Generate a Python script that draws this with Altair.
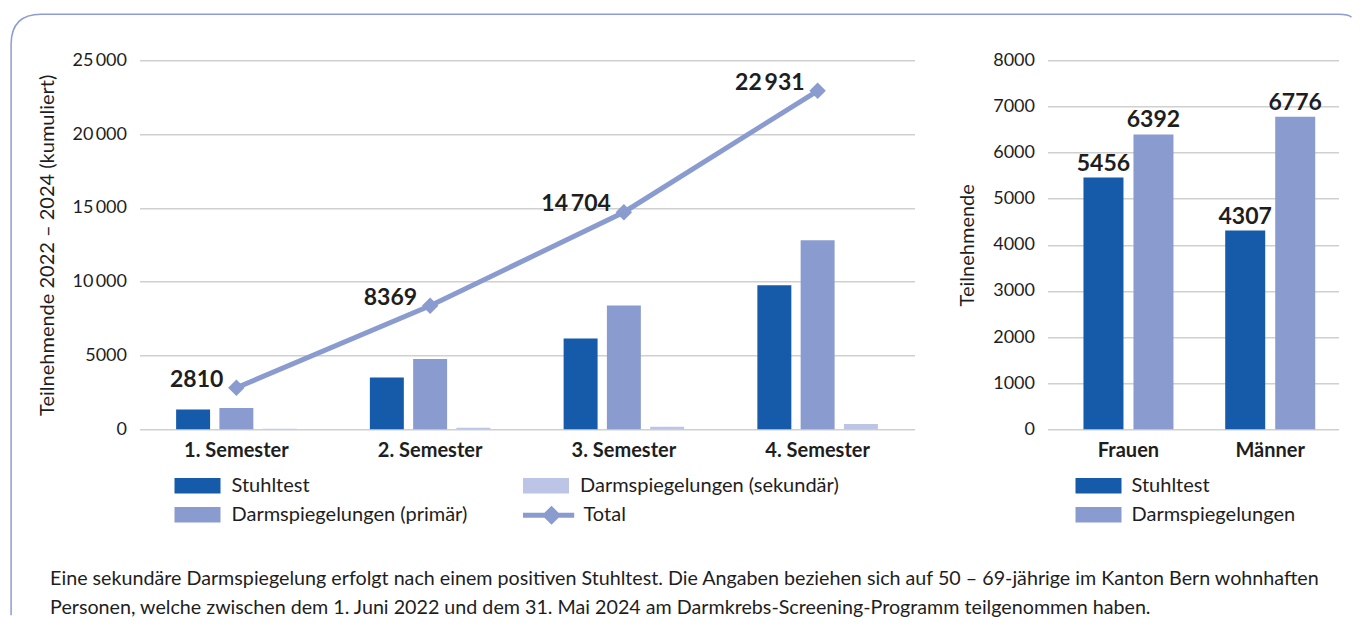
import altair as alt
import pandas as pd

# ---------------- data ----------------
semesters = ["1. Semester", "2. Semester", "3. Semester", "4. Semester"]
stuhltest = [1330, 3510, 6150, 9763]
darm_primaer = [1440, 4760, 8380, 12808]
darm_sekundaer = [40, 99, 174, 360]
total = [2810, 8369, 14704, 22931]

groups = ["Frauen", "Männer"]
g_stuhltest = [5456, 4307]
g_darm = [6392, 6776]

left_series = ["Stuhltest", "Darmspiegelungen (primär)", "Darmspiegelungen (sekundär)"]
total_name = ["Total"]
right_series = ["Stuhltest", "Darmspiegelungen"]

left_ticks = [0, 5000, 10000, 15000, 20000, 25000]
right_ticks = [0, 1000, 2000, 3000, 4000, 5000, 6000, 7000, 8000]

y_title_left = "Teilnehmende 2022 – 2024 (kumuliert)"
y_title_right = "Teilnehmende"
footnote = [
    "Eine sekundäre Darmspiegelung erfolgt nach einem positiven Stuhltest. Die Angaben beziehen sich auf 50 – 69-jährige im Kanton Bern wohnhaften",
    "Personen, welche zwischen dem 1. Juni 2022 und dem 31. Mai 2024 am Darmkrebs-Screening-Programm teilgenommen haben.",
]

# ---------------- styles ----------------
DARK = "#155ba9"
MID = "#8a9bd0"
LIGHT = "#bcc5e5"
FRAME = "#8d9cd3"
TXT = "#1e1e1e"
FONT = "Lato"

SWATCH = "M-1,-0.97H4.75V0.97H-1Z"
TOTAL_PATH = "M-1,0H5.4M2.565,-0.75L3.315,0L2.565,0.75L1.815,0Z"
FRAME_PATH = "M-128.4,555L-128.4,-16Q-128.4,-46 -98.4,-46L1199,-46Q1209,-46 1212,-43"

NUM_EXPR = "{v} >= 10000 ? replace(format({v}, ','), ',', '\u2009') : format({v}, 'd')"

# ---------------- tables ----------------
rows = []
for i, s in enumerate(semesters):
    for serie, vals in zip(left_series, [stuhltest, darm_primaer, darm_sekundaer]):
        rows.append({"semester": s, "serie": serie, "wert": vals[i]})
df_left = pd.DataFrame(rows)
df_total = pd.DataFrame({"semester": semesters, "total": total,
                         "linie": total_name * len(semesters)})

rows_r = []
for i, g in enumerate(groups):
    for serie, vals in zip(right_series, [g_stuhltest, g_darm]):
        rows_r.append({"gruppe": g, "serie": serie, "wert": vals[i]})
df_right = pd.DataFrame(rows_r)

one = pd.DataFrame({"a": [0]})

# ---------------- left chart ----------------
x_left = alt.X(
    "semester:N", sort=semesters, title=None,
    scale=alt.Scale(paddingInner=0.378, paddingOuter=0.189),
    axis=alt.Axis(labelFontWeight="bold", labelFontSize=20, labelPadding=11,
                  labelAngle=0, domain=False, ticks=False, grid=False),
)
y_left = alt.Y(
    "wert:Q", scale=alt.Scale(domain=[0, 25000], nice=False),
    axis=alt.Axis(values=left_ticks, labelExpr=NUM_EXPR.format(v="datum.value"),
                  title=y_title_left, titleFontSize=20, titlePadding=15, labelPadding=13),
)

bars = alt.Chart(df_left).mark_bar().encode(
    x=x_left,
    xOffset=alt.XOffset("serie:N", sort=left_series,
                        scale=alt.Scale(paddingInner=0.215, paddingOuter=0)),
    y=y_left,
    color=alt.Color(
        "serie:N",
        scale=alt.Scale(domain=left_series, range=[DARK, MID, LIGHT]),
        legend=alt.Legend(
            title=None, orient="none", legendX=33, legendY=415.5, columns=2,
            gridAlign="all", symbolType=SWATCH, symbolSize=256, symbolStrokeWidth=0,
            labelOffset=39, labelLimit=400, rowPadding=9, columnPadding=30.5,
        ),
    ),
)

x_line = alt.X("semester:N", sort=semesters, bandPosition=0.5)
line = alt.Chart(df_total).mark_line(strokeWidth=5).encode(
    x=x_line, y=alt.Y("total:Q"),
    stroke=alt.Stroke(
        "linie:N", scale=alt.Scale(domain=total_name, range=[MID]),
        legend=alt.Legend(
            title=None, orient="none", legendX=381, legendY=444.5,
            symbolType=TOTAL_PATH, symbolSize=256, symbolStrokeWidth=5,
            symbolFillColor=MID, labelOffset=42, labelLimit=400,
        ),
    ),
)
pts = alt.Chart(df_total).mark_point(shape="diamond", filled=True, size=270,
                                     color=MID, opacity=1).encode(
    x=x_line, y=alt.Y("total:Q"))
lbl = alt.Chart(df_total).transform_calculate(
    label=NUM_EXPR.format(v="datum.total")
).mark_text(align="right", baseline="middle", dx=-13, dy=-8, fontSize=23,
            fontWeight="bold", color=TXT).encode(
    x=x_line, y=alt.Y("total:Q"), text="label:N")

note = alt.Chart(one).mark_text(align="left", baseline="alphabetic", fontSize=19.7,
                                lineHeight=29, color=TXT).encode(
    x=alt.value(-89.4), y=alt.value(525), text=alt.value(footnote))

frame = alt.Chart(one).mark_point(shape=FRAME_PATH, size=4, filled=False,
                                  color=FRAME, strokeWidth=1.5, strokeJoin="round",
                                  opacity=1).encode(
    x=alt.value(0), y=alt.value(0))

left = alt.layer(frame, bars, line, pts, lbl, note).properties(width=775, height=369)

# ---------------- right chart ----------------
x_right = alt.X(
    "gruppe:N", sort=groups, title=None,
    scale=alt.Scale(paddingInner=0.365, paddingOuter=0.209, align=0.607),
    axis=alt.Axis(labelFontWeight="bold", labelFontSize=20, labelPadding=11,
                  labelAngle=0, domain=False, ticks=False, grid=False),
)
xo_right = alt.XOffset("serie:N", sort=right_series,
                       scale=alt.Scale(paddingInner=0.2, paddingOuter=0))
y_right = alt.Y(
    "wert:Q", scale=alt.Scale(domain=[0, 8000], nice=False),
    axis=alt.Axis(values=right_ticks, format="d", title=y_title_right,
                  titlePadding=15, labelPadding=13),
)
bars_r = alt.Chart(df_right).mark_bar().encode(
    x=x_right, xOffset=xo_right, y=y_right,
    color=alt.Color(
        "serie:N", scale=alt.Scale(domain=right_series, range=[DARK, MID]),
        legend=alt.Legend(
            title=None, orient="none", legendX=26, legendY=415.5,
            symbolType=SWATCH, symbolSize=256, symbolStrokeWidth=0,
            labelOffset=38, labelLimit=400, rowPadding=9,
        ),
    ),
)
lbl_r = alt.Chart(df_right).mark_text(baseline="alphabetic", dy=-7, fontSize=23,
                                      fontWeight="bold", color=TXT).encode(
    x=x_right, xOffset=xo_right, y=alt.Y("wert:Q"), text=alt.Text("wert:Q", format="d"))

right = alt.layer(bars_r, lbl_r).properties(width=291, height=369)

chart = (
    alt.hconcat(left, right, spacing=133, bounds="flush")
    .resolve_scale(color="independent", xOffset="independent")
    .properties(padding={"left": 1.5, "top": 5.25, "right": 0, "bottom": 0})
    .configure(font=FONT)
    .configure_view(stroke=None)
    .configure_axis(
        gridColor="#d0d0d0", gridWidth=1.3, domain=False, ticks=False,
        labelFont=FONT, labelFontSize=18, labelColor=TXT,
        titleFont=FONT, titleFontSize=20, titleFontWeight="normal", titleColor=TXT,
    )
    .configure_legend(labelFont=FONT, labelFontSize=20, labelColor=TXT)
)

chart.save("out.html", embed_options={"renderer": "svg", "actions": False})
